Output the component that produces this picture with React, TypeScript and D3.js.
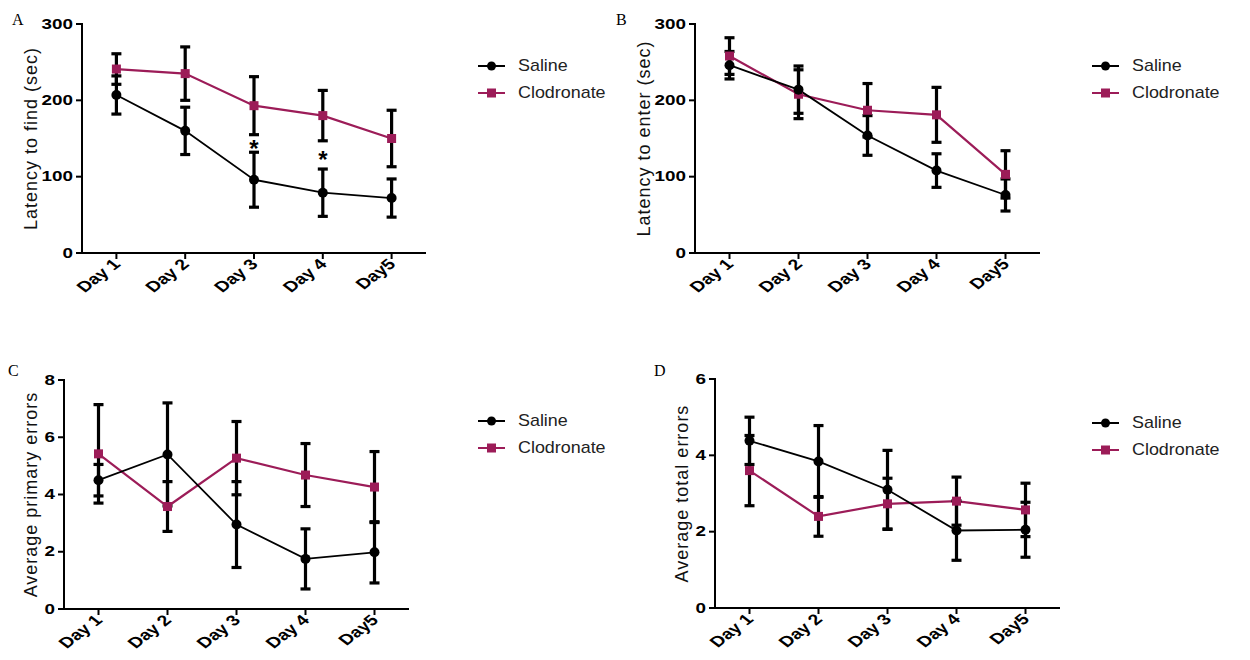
import React from "react";
import * as d3 from "d3";

const days = ["Day 1", "Day 2", "Day 3", "Day 4", "Day5"];

// A: latency to find (sec)
const salineFind = [207, 160, 96, 79, 72];
const salineFindSem = [25, 31, 36, 31, 25];
const clodFind = [241, 235, 193, 180, 150];
const clodFindSem = [20, 35, 38, 33, 37];

// B: latency to enter (sec)
const salineEnter = [246, 214, 154, 108, 76];
const salineEnterSem = [18, 31, 26, 22, 21];
const clodEnter = [258, 208, 187, 181, 103];
const clodEnterSem = [24, 32, 35, 36, 31];

// C: average primary errors
const salinePrimary = [4.5, 5.4, 2.95, 1.75, 1.98];
const salinePrimarySem = [0.55, 1.8, 1.5, 1.05, 1.07];
const clodPrimary = [5.42, 3.58, 5.27, 4.68, 4.26];
const clodPrimarySem = [1.72, 0.87, 1.28, 1.1, 1.24];

// D: average total errors
const salineTotal = [4.38, 3.84, 3.1, 2.03, 2.05];
const salineTotalSem = [0.62, 0.94, 1.03, 0.78, 0.72];
const clodTotal = [3.6, 2.4, 2.73, 2.8, 2.57];
const clodTotalSem = [0.92, 0.52, 0.67, 0.63, 0.7];

const ticksA = [0, 100, 200, 300];
const ticksC = [0, 2, 4, 6, 8];
const ticksD = [0, 2, 4, 6];

const starsA = [
  { day: "Day 3", value: 143 },
  { day: "Day 4", value: 128 },
];

const CLOD = "#9c1c58";
const SANS = "'Liberation Sans', Arial, sans-serif";
const SX = 1.3; // horizontal stretch of the original figure's text

const Legend = ({ x, y }) => (
  <g transform={`translate(${x},${y})`}>
    <line x1={0} x2={27} y1={0} y2={0} stroke="#000" strokeWidth={2} />
    <circle cx={13.5} cy={0} r={4.5} fill="#000" />
    <text x={40} y={0} dominantBaseline="central" fontFamily={SANS} fontSize={16} fill="#222"
      transform={`translate(40,0) scale(1.12,1) translate(-40,0)`}>Saline</text>
    <line x1={0} x2={27} y1={27} y2={27} stroke={CLOD} strokeWidth={2} />
    <rect x={9} y={22.5} width={9} height={9} fill={CLOD} />
    <text x={40} y={27} dominantBaseline="central" fontFamily={SANS} fontSize={16} fill="#222"
      transform={`translate(40,0) scale(1.12,1) translate(-40,0)`}>Clodronate</text>
  </g>
);

const Panel = (props) => {
  const { xRange, yRange, yMax, ticks, title, titleGap, saline, salineSem, clod, clodSem, letter, letterPos, legendPos, stars } = props;
  const x = d3.scalePoint().domain(days).range(xRange).padding(0.5);
  const y = d3.scaleLinear().domain([0, yMax]).range(yRange);
  const line = d3.line().x((d) => d[0]).y((d) => d[1]);
  const pts = (vals) => vals.map((v, i) => [x(days[i]), y(v)]);
  const bars = (vals, sem, key) =>
    vals.map((v, i) => {
      const cx = x(days[i]);
      const top = y(v + sem[i]);
      const bot = y(v - sem[i]);
      return (
        <g key={key + i} stroke="#000" strokeWidth={3.2}>
          <line x1={cx} x2={cx} y1={top} y2={bot} />
          <line x1={cx - 5} x2={cx + 5} y1={top} y2={top} />
          <line x1={cx - 5} x2={cx + 5} y1={bot} y2={bot} />
        </g>
      );
    });
  const axisX = xRange[0];
  const axisY = yRange[0];
  const midY = (yRange[0] + yRange[1]) / 2;
  return (
    <g>
      <text x={letterPos[0]} y={letterPos[1]} fontFamily="'Liberation Serif', 'Times New Roman', serif" fontSize={16}>{letter}</text>

      {/* axes */}
      <line x1={axisX} x2={axisX} y1={yRange[1] - 1} y2={axisY + 1} stroke="#000" strokeWidth={2} />
      <line x1={axisX - 6} x2={xRange[1]} y1={axisY} y2={axisY} stroke="#000" strokeWidth={2} />
      {ticks.map((t) => (
        <g key={t}>
          <line x1={axisX - 6} x2={axisX} y1={y(t)} y2={y(t)} stroke="#000" strokeWidth={2} />
          <text transform={`translate(${axisX - 9},${y(t)}) scale(${SX},1)`} textAnchor="end" dominantBaseline="central"
            fontFamily={SANS} fontWeight="bold" fontSize={14.5}>{t}</text>
        </g>
      ))}
      {days.map((d) => (
        <g key={d}>
          <line x1={x(d)} x2={x(d)} y1={axisY} y2={axisY + 6} stroke="#000" strokeWidth={2} />
          <text transform={`translate(${x(d) + 5},${axisY + 12}) scale(${SX},1) rotate(-45)`} textAnchor="end"
            fontFamily={SANS} fontWeight="bold" fontSize={15}>{d}</text>
        </g>
      ))}
      <text transform={`translate(${axisX - titleGap},${midY}) rotate(-90)`} textAnchor="middle"
        fontFamily={SANS} fontSize={18} letterSpacing={1} fill="#111">{title}</text>

      {/* series */}
      <path d={line(pts(clod))} fill="none" stroke={CLOD} strokeWidth={2.2} />
      <path d={line(pts(saline))} fill="none" stroke="#000" strokeWidth={1.8} />
      {bars(clod, clodSem, "c")}
      {bars(saline, salineSem, "s")}
      {pts(clod).map((p, i) => (
        <rect key={"cm" + i} x={p[0] - 4.5} y={p[1] - 4.5} width={9} height={9} fill={CLOD} />
      ))}
      {pts(saline).map((p, i) => (
        <circle key={"sm" + i} cx={p[0]} cy={p[1]} r={5} fill="#000" />
      ))}
      {(stars || []).map((s) => (
        <text key={s.day} x={x(s.day)} y={y(s.value) + 13} textAnchor="middle" fontFamily={SANS} fontWeight="bold" fontSize={24}>*</text>
      ))}

      <Legend x={legendPos[0]} y={legendPos[1]} />
    </g>
  );
};

export default function App() {
  return (
    <svg width={1250} height={660} style={{ position: "absolute", left: 0, top: 0, background: "#fff" }}>
      <Panel xRange={[82, 426]} yRange={[253, 24]} yMax={300} ticks={ticksA} title="Latency to find (sec)" titleGap={45}
        saline={salineFind} salineSem={salineFindSem} clod={clodFind} clodSem={clodFindSem}
        letter="A" letterPos={[12, 25]} legendPos={[478, 66]} stars={starsA} />
      <Panel xRange={[695, 1040]} yRange={[253, 24]} yMax={300} ticks={ticksA} title="Latency to enter (sec)" titleGap={45}
        saline={salineEnter} salineSem={salineEnterSem} clod={clodEnter} clodSem={clodEnterSem}
        letter="B" letterPos={[616, 25]} legendPos={[1092, 66]} />
      <Panel xRange={[64, 409]} yRange={[609, 380]} yMax={8} ticks={ticksC} title="Average primary errors" titleGap={27}
        saline={salinePrimary} salineSem={salinePrimarySem} clod={clodPrimary} clodSem={clodPrimarySem}
        letter="C" letterPos={[8, 376]} legendPos={[478, 421]} />
      <Panel xRange={[715, 1060]} yRange={[608, 379]} yMax={6} ticks={ticksD} title="Average total errors" titleGap={27}
        saline={salineTotal} salineSem={salineTotalSem} clod={clodTotal} clodSem={clodTotalSem}
        letter="D" letterPos={[654, 376]} legendPos={[1092, 423]} />
    </svg>
  );
}
